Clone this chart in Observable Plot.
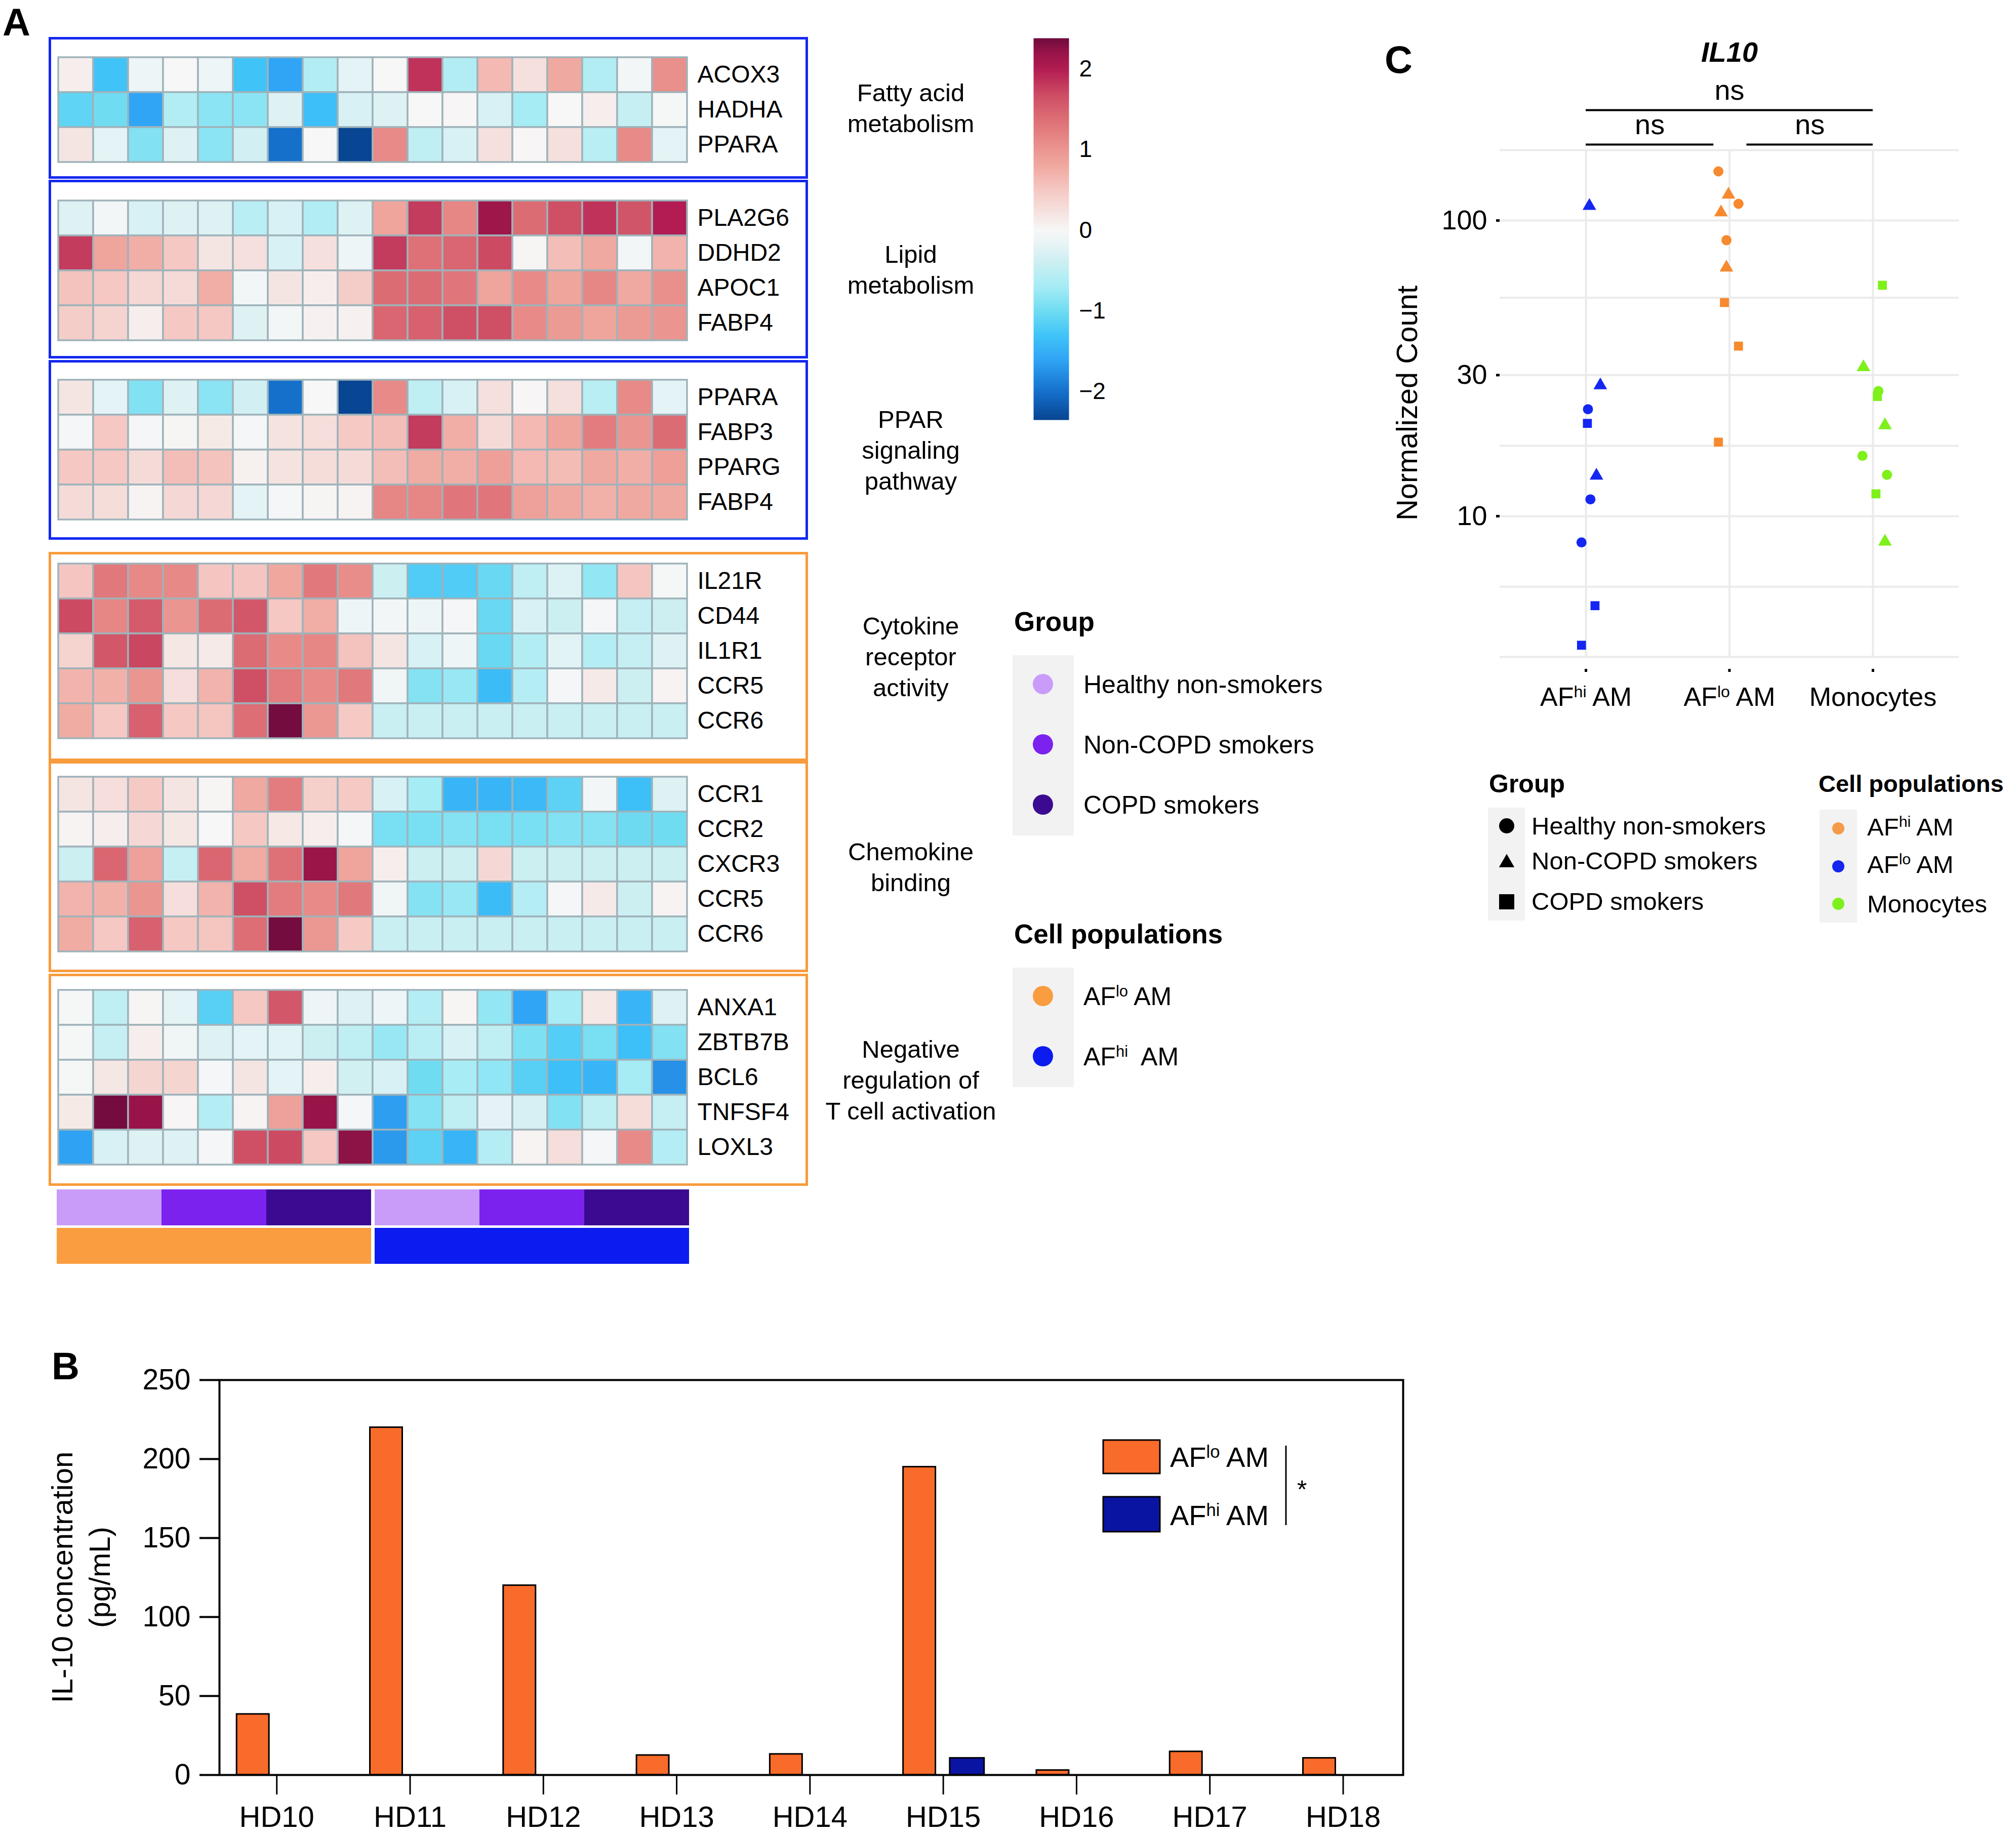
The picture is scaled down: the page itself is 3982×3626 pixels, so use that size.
<!DOCTYPE html>
<html>
<head>
<meta charset="utf-8">
<script src="https://cdn.jsdelivr.net/npm/d3@7"></script>
<script src="https://cdn.jsdelivr.net/npm/@observablehq/plot@0.6"></script>
<style>
html,body{margin:0;padding:0;background:#fff;}
body{width:3982px;height:3626px;position:relative;overflow:hidden;font-family:"Liberation Sans",Arial,Helvetica,sans-serif;}
.pos{position:absolute;}
.pos svg{overflow:visible;max-width:none;}
</style>
</head>
<body>
<script>
// ====================== DATA ======================
// ---- Panel A: heatmap samples ----
const sampleIds = ["S01","S02","S03","S04","S05","S06","S07","S08","S09","S10","S11","S12","S13","S14","S15","S16","S17","S18"];
const sampleGroup = ["Healthy non-smokers","Healthy non-smokers","Healthy non-smokers","Non-COPD smokers","Non-COPD smokers","Non-COPD smokers","COPD smokers","COPD smokers","COPD smokers",
                     "Healthy non-smokers","Healthy non-smokers","Healthy non-smokers","Non-COPD smokers","Non-COPD smokers","Non-COPD smokers","COPD smokers","COPD smokers","COPD smokers"];
const samplePopulation = ["AFlo AM","AFlo AM","AFlo AM","AFlo AM","AFlo AM","AFlo AM","AFlo AM","AFlo AM","AFlo AM",
                          "AFhi AM","AFhi AM","AFhi AM","AFhi AM","AFhi AM","AFhi AM","AFhi AM","AFhi AM","AFhi AM"];
const groupNames = ["Healthy non-smokers","Non-COPD smokers","COPD smokers"];
const groupColors = ["#c99cfa","#7b22ef","#3b0a90"];
const populationNames = ["AFlo AM","AFhi AM"];
const populationColors = ["#f99d40","#0c1bef"];

const pathwayNames = ["Fatty acid\nmetabolism","Lipid\nmetabolism","PPAR\nsignaling\npathway","Cytokine\nreceptor\nactivity","Chemokine\nbinding","Negative\nregulation of\nT cell activation"];

// shared rows
const ppara = [0.2,-0.2,-0.9,-0.25,-0.85,-0.35,-2.0,0,-2.35,1.1,-0.5,-0.3,0.25,0.02,0.25,-0.55,1.1,-0.2];
const ccr5  = [0.7,0.72,1.0,0.27,0.7,1.65,1.25,1.1,1.28,-0.08,-0.88,-0.78,-1.38,-0.58,-0.03,0.14,-0.4,0.05];
const ccr6  = [0.78,0.5,1.5,0.5,0.53,1.38,2.35,0.98,0.48,-0.42,-0.42,-0.42,-0.42,-0.42,-0.42,-0.42,-0.42,-0.42];

const fattyAcidGenes = ["ACOX3","HADHA","PPARA"];
const fattyAcidValues = [
  [0.1,-1.3,-0.1,0,-0.1,-1.3,-1.6,-0.6,-0.2,0,1.85,-0.6,0.65,0.25,0.8,-0.6,-0.05,1.05],
  [-1.1,-1.0,-1.6,-0.6,-0.85,-0.85,-0.25,-1.35,-0.3,-0.25,0,0.02,-0.3,-0.7,0,0.1,-0.45,-0.02],
  ppara
];
const lipidGenes = ["PLA2G6","DDHD2","APOC1","FABP4"];
const lipidValues = [
  [-0.25,-0.05,-0.3,-0.25,-0.25,-0.55,-0.3,-0.6,-0.25,0.85,1.8,1.15,2.15,1.4,1.65,1.85,1.6,2.0],
  [1.8,0.85,0.75,0.5,0.2,0.25,-0.3,0.25,-0.1,1.8,1.35,1.45,1.7,0.03,0.6,0.8,-0.05,0.7],
  [0.55,0.5,0.35,0.3,0.75,-0.05,0.2,0.1,0.45,1.4,1.4,1.3,0.85,1.1,0.85,1.15,0.8,1.05],
  [0.45,0.38,0.1,0.5,0.5,-0.25,-0.05,0.07,0.07,1.45,1.5,1.65,1.65,1.1,0.95,0.85,0.95,1.0]
];
const pparGenes = ["PPARA","FABP3","PPARG","FABP4"];
const pparValues = [
  ppara,
  [-0.03,0.5,-0.03,0.03,0.15,-0.03,0.22,0.27,0.48,0.6,1.8,0.75,0.3,0.65,0.85,1.25,1.0,1.4],
  [0.5,0.5,0.3,0.6,0.55,0.08,0.22,0.28,0.3,0.6,0.78,0.75,0.9,0.65,0.62,0.8,0.75,0.9],
  [0.3,0.28,0.05,0.33,0.33,-0.2,-0.03,0.03,0.05,1.15,1.15,1.3,1.3,0.88,0.8,0.72,0.8,0.8]
];
const cytokineGenes = ["IL21R","CD44","IL1R1","CCR5","CCR6"];
const cytokineValues = [
  [0.52,1.28,1.12,1.12,0.52,0.52,0.82,1.28,1.08,-0.4,-1.2,-1.2,-1.05,-0.5,-0.27,-0.8,0.52,-0.02],
  [1.7,1.15,1.55,1.0,1.4,1.58,0.5,0.75,-0.12,-0.05,-0.1,-0.03,-1.05,-0.3,-0.4,-0.03,-0.45,-0.38],
  [0.38,1.58,1.72,0.18,0.14,1.4,1.1,1.15,0.55,0.2,-0.3,-0.12,-1.05,-0.6,-0.22,-0.58,-0.45,-0.25],
  ccr5,
  ccr6
];
const chemokineGenes = ["CCR1","CCR2","CXCR3","CCR5","CCR6"];
const chemokineValues = [
  [0.2,0.27,0.48,0.2,0.03,0.8,1.25,0.42,0.48,-0.3,-0.7,-1.45,-1.45,-1.4,-1.12,-0.05,-1.35,-0.25],
  [0.05,0.1,0.33,0.18,0,0.5,0.17,0.1,-0.03,-0.95,-0.95,-0.88,-0.95,-0.95,-0.9,-0.88,-1.02,-1.0],
  [-0.4,1.45,0.88,-0.45,1.45,0.78,1.35,2.18,0.85,0.1,-0.4,-0.4,0.33,-0.4,-0.4,-0.4,-0.4,-0.4],
  ccr5,
  ccr6
];
const tcellGenes = ["ANXA1","ZBTB7B","BCL6","TNFSF4","LOXL3"];
const tcellValues = [
  [-0.02,-0.5,0.03,-0.2,-1.15,0.5,1.58,-0.1,-0.25,-0.1,-0.58,0.03,-0.8,-1.6,-0.68,0.17,-1.45,-0.25],
  [-0.02,-0.45,0.1,-0.08,-0.25,-0.2,-0.22,-0.4,-0.5,-0.78,-0.55,-0.3,-0.5,-0.92,-1.18,-0.95,-1.35,-0.9],
  [-0.02,0.18,0.37,0.37,-0.03,0.2,-0.2,0.1,-0.37,-0.3,-1.0,-0.68,-0.82,-1.15,-1.35,-1.45,-0.7,-1.75],
  [0.15,2.35,2.2,0.02,-0.58,0.05,0.88,2.2,-0.03,-1.65,-0.88,-0.5,-0.18,-0.32,-0.9,-0.5,0.28,-0.45],
  [-1.62,-0.3,-0.25,-0.25,-0.03,1.65,1.7,0.5,2.25,-1.68,-1.12,-1.45,-0.58,0.05,0.27,-0.03,1.1,-0.58]
];

// heat colour scale
const heatStops  = [-2.4,-2.0,-1.6,-1.3,-1.0,-0.7,-0.4,-0.15,0,0.2,0.5,0.8,1.1,1.4,1.7,2.0,2.2,2.4];
const heatColors = ["#063f8a","#1570cc","#30a5f5","#40c4f8","#70dcf2","#a5ecf5","#cceff2","#eaf4f6","#f7f7f7","#f5e5e2","#f5c8c3","#f0a9a0","#e88b88","#dc6c74","#cc4a62","#b21c52","#981448","#6a0a3c"];
const colorbarRange = [-2.35, 2.38];
const colorbarTicks = [-2,-1,0,1,2];

// ---- Panel B ----
const donors = ["HD10","HD11","HD12","HD13","HD14","HD15","HD16","HD17","HD18"];
const il10AFlo = [38.5,220,120,12.5,13.2,195,3,14.8,10.7];
const il10AFhi = [0,0,0,0,0,10.7,0,0,0];
const barPopulations = ["AFlo AM","AFhi AM"];
const barColors = ["#f86b2a","#0a14a3"];
const barTicks = [0,50,100,150,200,250];

// ---- Panel C ----
const cCategories = ["AF^{hi} AM","AF^{lo} AM","Monocytes"];
const cPopulation = ["AFhi AM","AFhi AM","AFhi AM","AFhi AM","AFhi AM","AFhi AM","AFhi AM","AFhi AM","AFhi AM",
                     "AFlo AM","AFlo AM","AFlo AM","AFlo AM","AFlo AM","AFlo AM","AFlo AM","AFlo AM","AFlo AM",
                     "Monocytes","Monocytes","Monocytes","Monocytes","Monocytes","Monocytes","Monocytes","Monocytes","Monocytes"];
const cGroup = ["Non-COPD smokers","Non-COPD smokers","Healthy non-smokers","COPD smokers","Non-COPD smokers","Healthy non-smokers","Healthy non-smokers","COPD smokers","COPD smokers",
                "Healthy non-smokers","Non-COPD smokers","Healthy non-smokers","Non-COPD smokers","Healthy non-smokers","Non-COPD smokers","COPD smokers","COPD smokers","COPD smokers",
                "COPD smokers","Non-COPD smokers","Healthy non-smokers","COPD smokers","Non-COPD smokers","Healthy non-smokers","Healthy non-smokers","COPD smokers","Non-COPD smokers"];
const cCount = [112,27.7,23.0,20.6,13.7,11.4,8.15,4.98,3.66,
                146.6,122.3,113.9,106.5,85.8,69.3,52.8,37.6,17.8,
                60.4,31.9,26.5,25.4,20.3,16.0,13.8,11.9,8.2];
const cJitter = [0.024,0.10,0.014,0.01,0.073,0.031,-0.031,0.063,-0.031,
                 -0.077,-0.007,0.063,-0.059,-0.021,-0.021,-0.035,0.063,-0.077,
                 0.066,-0.066,0.038,0.031,0.084,-0.073,0.098,0.021,0.084];
const cPopColors = ["#1426f2","#f7892e","#7ef01a"];
const cYTicks = [10,30,100];
const cYGrid = [3.34,5.77,10,17.3,30,54.8,100,173];
const cYDomain = [3.34,173];
const comparisons = [
  {a:0,b:1,label:"ns",level:0},
  {a:1,b:2,label:"ns",level:0},
  {a:0,b:2,label:"ns",level:1}
];
const cLegendGroups = ["Healthy non-smokers","Non-COPD smokers","COPD smokers"];
const cLegendPops = ["AF^{hi} AM","AF^{lo} AM","Monocytes"];
const cLegendPopColors = ["#f59a48","#1526ee","#7df01c"];

// ====================== HELPERS ======================
const FONT = '"Liberation Sans", Arial, Helvetica, sans-serif';
const overlay = d3.create("svg").attr("width",3982).attr("height",3626)
  .style("position","absolute").style("left","0").style("top","0").style("z-index","10").style("pointer-events","none");

function addRich(t, s, size) {
  const parts = s.split(/\^\{|\}/);
  const rise = size * 0.33;
  parts.forEach((p, i) => {
    if (i % 2 === 1) t.append("tspan").attr("font-size", size * 0.62).attr("dy", -rise).text(p);
    else if (i > 0) t.append("tspan").attr("dy", rise).text(p);
    else t.append("tspan").text(p);
  });
}
function txt(x, yc, s, o = {}) {
  const size = o.size || 48;
  const t = overlay.append("text")
    .attr("x", x).attr("y", yc + 0.358 * size)
    .attr("font-size", size).attr("font-family", FONT)
    .attr("text-anchor", o.anchor || "start")
    .attr("font-weight", o.weight || "normal")
    .attr("font-style", o.italic ? "italic" : "normal")
    .attr("fill", "#000")
    .style("white-space", "pre");
  if (o.rotate) t.attr("transform", `rotate(-90 ${x} ${yc})`);
  addRich(t, s, size);
  return t;
}
function rect(x, y, w, h, fill, stroke, sw) {
  const r = overlay.append("rect").attr("x",x).attr("y",y).attr("width",w).attr("height",h).attr("fill",fill);
  if (stroke) r.attr("stroke",stroke).attr("stroke-width",sw);
  return r;
}
function sym(type, x, y, size, fill) {
  overlay.append("path").attr("d", d3.symbol(type, size)()).attr("transform",`translate(${x},${y})`).attr("fill", fill);
}
function place(node, left, top) {
  const div = document.createElement("div");
  div.className = "pos";
  div.style.left = left + "px";
  div.style.top = top + "px";
  div.appendChild(node);
  document.body.appendChild(div);
  return div;
}
function plotStyle(fs) {
  return {background:"transparent", fontFamily:FONT, fontSize: fs + "px", color:"#000", overflow:"visible", maxWidth:"none"};
}
function richifyAxis(svg, size) {
  svg.querySelectorAll("text").forEach(t => {
    const s = t.textContent;
    if (s.includes("^{")) {
      while (t.firstChild) t.removeChild(t.firstChild);
      addRich(d3.select(t), s, size);
    }
  });
}
const intMinus = d => (d < 0 ? "\u2212" + Math.abs(d) : String(d));
const heatColor = {type:"linear", domain: heatStops, range: heatColors, interpolate:"rgb", clamp:true};

// ====================== PANEL A ======================
txt(5, 43, "A", {size:76, weight:"bold"});

const boxBlue = "#1428f0", boxOrange = "#f89b3c";
const blocks = [
  {genes:fattyAcidGenes, values:fattyAcidValues, name:pathwayNames[0], box:[73,353],   cellTop:113,  color:boxBlue},
  {genes:lipidGenes,     values:lipidValues,     name:pathwayNames[1], box:[355,708],  cellTop:396,  color:boxBlue},
  {genes:pparGenes,      values:pparValues,      name:pathwayNames[2], box:[711,1066], cellTop:750,  color:boxBlue},
  {genes:cytokineGenes,  values:cytokineValues,  name:pathwayNames[3], box:[1090,1503],cellTop:1112, color:boxOrange},
  {genes:chemokineGenes, values:chemokineValues, name:pathwayNames[4], box:[1503,1920],cellTop:1533, color:boxOrange},
  {genes:tcellGenes,     values:tcellValues,     name:pathwayNames[5], box:[1923,2342],cellTop:1954, color:boxOrange}
];
const CELL_W = 69, ROW_H = 69.2, HM_LEFT = 115;

blocks.forEach(b => {
  const box = document.createElement("div");
  box.className = "pos";
  Object.assign(box.style, {left:"96px", top:b.box[0]+"px", width:"1500px", height:(b.box[1]-b.box[0])+"px",
    border:`5px solid ${b.color}`, boxSizing:"border-box"});
  document.body.appendChild(box);
  const rows = b.genes.flatMap((g,i) => b.values[i].map((v,j) => ({gene:g, sample:sampleIds[j], value:v})));
  const h = b.genes.length * ROW_H;
  const p = Plot.plot({
    width: 3 + CELL_W*18 + 240, height: h + 6,
    marginLeft: 3, marginRight: 240, marginTop: 3, marginBottom: 3,
    x: {domain: sampleIds, padding: 0, axis: null},
    y: {domain: b.genes, padding: 0},
    color: heatColor,
    style: plotStyle(48),
    marks: [
      Plot.cell(rows, {x:"sample", y:"gene", fill:"value", stroke:"#9fb3ba", strokeWidth:3.5, inset:0}),
      Plot.axisY({anchor:"right", tickSize:0, tickPadding:20, fontSize:48, label:null})
    ]
  });
  place(p, HM_LEFT - 3, b.cellTop - 3);
  const lines = b.name.split("\n");
  const cy = (b.box[0] + b.box[1]) / 2;
  lines.forEach((ln,k) => txt(1799, cy + (k - (lines.length-1)/2) * 61, ln, {size:49, anchor:"middle"}));
});

// annotation bars
{
  const annRows = sampleIds.flatMap((s,i) => [
    {sample:s, track:"Group", cat:sampleGroup[i], left: i < 9},
    {sample:s, track:"Cell", cat:samplePopulation[i], left: i < 9}
  ]);
  const p = Plot.plot({
    width: 10 + CELL_W*18 + 10, height: 147,
    marginLeft: 10, marginRight: 10, marginTop: 0, marginBottom: 0,
    x: {domain: sampleIds, padding: 0, axis: null},
    y: {domain: ["Group","Cell"], paddingInner: 0.07, paddingOuter: 0, axis: null},
    color: {type:"ordinal", domain: [...groupNames, ...populationNames], range: [...groupColors, ...populationColors]},
    style: plotStyle(40),
    marks: [
      Plot.cell(annRows.filter(d => d.left), {x:"sample", y:"track", fill:"cat", inset:0, dx:-3}),
      Plot.cell(annRows.filter(d => !d.left), {x:"sample", y:"track", fill:"cat", inset:0, dx:4})
    ]
  });
  place(p, HM_LEFT - 10, 2349);
}

// colour bar
{
  const p = Plot.plot({
    width: 70 + 140, height: 754,
    marginLeft: 0, marginRight: 140, marginTop: 0, marginBottom: 0,
    x: {domain: [0,1], axis: null},
    y: {domain: colorbarRange},
    color: heatColor,
    style: plotStyle(46),
    marks: [
      Plot.raster({x1:0, x2:1, y1:colorbarRange[0], y2:colorbarRange[1], fill:(x,y) => y, pixelSize:1}),
      Plot.axisY({anchor:"right", ticks: colorbarTicks, tickFormat: intMinus, tickSize:0, tickPadding:20, fontSize:46, label:null})
    ]
  });
  place(p, 2041, 75);
}

// Group / Cell populations legends (panel A)
txt(2003, 1227, "Group", {size:53, weight:"bold"});
rect(2000, 1294, 121, 356, "#f2f2f2");
[1351, 1470, 1589].forEach((y,i) => {
  overlay.append("circle").attr("cx",2060).attr("cy",y).attr("r",20).attr("fill",groupColors[i]);
  txt(2140, y, groupNames[i], {size:50});
});
txt(2003, 1844, "Cell populations", {size:53, weight:"bold"});
rect(2000, 1911, 121, 236, "#f2f2f2");
overlay.append("circle").attr("cx",2060).attr("cy",1967).attr("r",20).attr("fill",populationColors[0]);
txt(2140, 1967, "AF^{lo} AM", {size:50});
overlay.append("circle").attr("cx",2060).attr("cy",2086).attr("r",20).attr("fill",populationColors[1]);
txt(2140, 2086, "AF^{hi}\u00a0 AM", {size:50});

// ====================== PANEL B ======================
txt(102, 2697, "B", {size:76, weight:"bold"});
{
  const barRows = donors.flatMap((d,i) => [
    {i, donor:d, pop:"AFlo AM", v: il10AFlo[i]},
    {i, donor:d, pop:"AFhi AM", v: il10AFhi[i]}
  ]).filter(d => d.v > 0);
  const W = 2500, H = 936;
  const p = Plot.plot({
    width: W, height: H,
    marginLeft: 133, marginTop: 35, marginRight: W - (2771 - 300), marginBottom: H - (3505 - 2690),
    x: {domain: [-0.43, 8.45], axis: null},
    y: {domain: [0, 250], axis: null},
    color: {domain: barPopulations, range: barColors},
    style: plotStyle(57),
    marks: [
      Plot.rectY(barRows, {
        x1: d => d.i + (d.pop === "AFlo AM" ? -0.300 : 0.050),
        x2: d => d.i + (d.pop === "AFlo AM" ? -0.057 : 0.308),
        y1: 0, y2: "v", fill: "pop", stroke: "#000", strokeWidth: 3
      }),
      Plot.frame({stroke:"#000", strokeWidth:4}),
      Plot.axisY({ticks: barTicks, tickSize: 39, tickPadding: 18, strokeWidth: 4, fontSize: 57, label: null}),
      Plot.axisX({ticks: donors.map((d,i) => i), tickFormat: i => donors[i], tickSize: 39, tickPadding: 22, strokeWidth: 3, fontSize: 58, label: null})
    ]
  });
  place(p, 300, 2690);
  txt(122, 3115, "IL-10 concentration", {size:58, anchor:"middle", rotate:true});
  txt(196, 3115, "(pg/mL)", {size:58, anchor:"middle", rotate:true});
  // legend
  rect(2179, 2844, 112, 66, barColors[0], "#000", 3);
  rect(2179, 2956, 112, 69, barColors[1], "#000", 3);
  txt(2311, 2877, "AF^{lo} AM", {size:56});
  txt(2311, 2992, "AF^{hi} AM", {size:56});
  overlay.append("line").attr("x1",2540).attr("x2",2540).attr("y1",2855).attr("y2",3012).attr("stroke","#000").attr("stroke-width",3);
  txt(2562, 2941, "*", {size:50});
}

// ====================== PANEL C ======================
txt(2735, 117, "C", {size:76, weight:"bold"});
txt(3416, 102, "IL10", {size:56, weight:"bold", italic:true, anchor:"middle"});
{
  const popIndex = {"AFhi AM":0, "AFlo AM":1, "Monocytes":2};
  const cRows = cCount.map((v,i) => ({v, pop:cPopulation[i], group:cGroup[i], x: popIndex[cPopulation[i]] + cJitter[i]}));
  const W = 1040, H = 1150, L = 2860, T = 280;
  const p = Plot.plot({
    width: W, height: H,
    marginLeft: 2962 - L, marginRight: W - (3869 - L), marginTop: 296 - T, marginBottom: H - (1297 - T),
    x: {domain: [-0.6, 2.6], axis: null},
    y: {type: "log", domain: cYDomain, axis: null},
    color: {domain: ["AFhi AM","AFlo AM","Monocytes"], range: cPopColors},
    symbol: {domain: groupNames, range: ["circle","triangle","square"]},
    style: plotStyle(54),
    marks: [
      Plot.gridY(cYGrid, {stroke:"#ebebeb", strokeOpacity:1, strokeWidth:4}),
      Plot.gridX([0,1,2], {stroke:"#ebebeb", strokeOpacity:1, strokeWidth:4}),
      Plot.axisY({ticks: cYTicks, tickFormat: d => String(d), tickSize: 7, tickPadding: 18, strokeWidth: 5, fontSize: 54, label: null}),
      Plot.axisX({ticks: [0,1,2], tickFormat: i => cCategories[i], tickSize: 6, tickPadding: 30, strokeWidth: 5, fontSize: 52, label: null, dy: 24}),
      Plot.dot(cRows, {x: "x", y: "v", fill: "pop", symbol: "group", r: 10})
    ]
  });
  richifyAxis(p, 52);
  place(p, L, T);
  txt(2778, 796, "Normalized Count", {size:58, anchor:"middle", rotate:true});

  // significance brackets
  const b = Plot.plot({
    width: W, height: 200,
    marginLeft: 2962 - L, marginRight: W - (3869 - L), marginTop: 0, marginBottom: 0,
    x: {domain: [-0.6, 2.6], axis: null},
    y: {domain: [0, 1], range: [165, 97], axis: null},
    style: plotStyle(56),
    marks: [
      Plot.ruleY(comparisons, {x1: d => d.a + (d.a === 1 ? 0.12 : 0), x2: d => d.b - (d.b === 1 ? 0.11 : 0), y: "level", stroke: "#000", strokeWidth: 4}),
      Plot.text(comparisons, {x: d => ((d.a + (d.a === 1 ? 0.12 : 0)) + (d.b - (d.b === 1 ? 0.11 : 0))) / 2, y: "level", text: "label", dy: -38, fontSize: 56})
    ]
  });
  place(b, L, 120);

  // legends
  txt(2941, 1547, "Group", {size:50, weight:"bold"});
  rect(2939, 1595, 73, 223, "#f2f2f2");
  sym(d3.symbolCircle, 2976, 1631, 707, "#000");
  sym(d3.symbolTriangle, 2976, 1704, 400, "#000");
  sym(d3.symbolSquare, 2976, 1781, 900, "#000");
  [1630, 1699, 1779].forEach((y,i) => txt(3025, y, cLegendGroups[i], {size:49}));

  txt(3592, 1547, "Cell populations", {size:47, weight:"bold"});
  rect(3594, 1599, 74, 223, "#f2f2f2");
  [1636, 1711, 1785].forEach((y,i) => {
    overlay.append("circle").attr("cx",3631).attr("cy",y).attr("r",12).attr("fill",cLegendPopColors[i]);
  });
  [1632, 1706, 1784].forEach((y,i) => txt(3688, y, cLegendPops[i], {size:49}));
}

document.body.appendChild(overlay.node());
</script>
</body>
</html>
